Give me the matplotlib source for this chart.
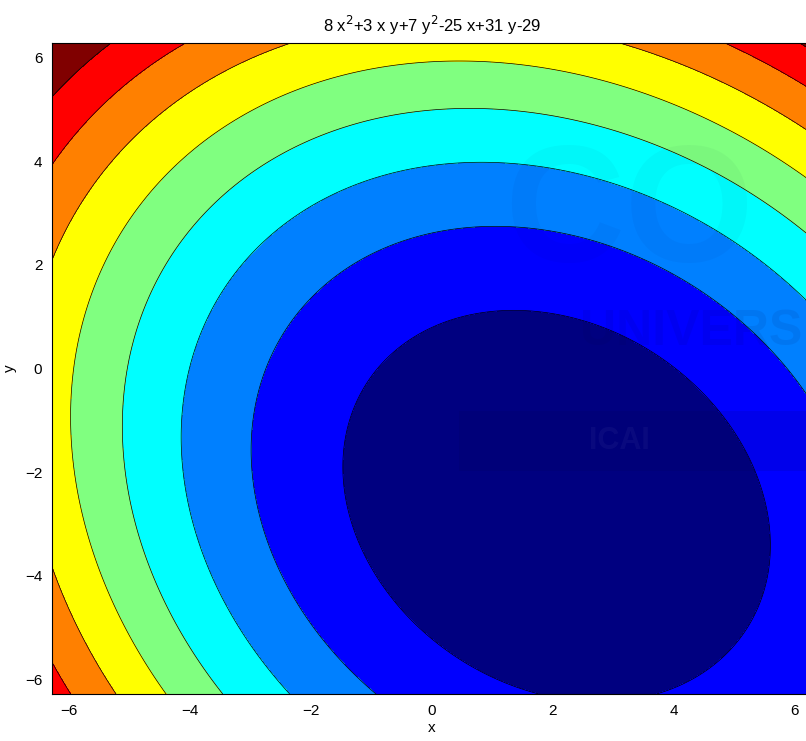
import numpy as np
import matplotlib
matplotlib.use("Agg")
import matplotlib.pyplot as plt
from matplotlib.patches import Rectangle

# f(x, y) = a x^2 + b x y + c y^2 + d x + e y + k
coef_a, coef_b, coef_c = 8, 3, 7
coef_d, coef_e, coef_k = -25, 31, -29
title = "8 x$^{2}$+3 x y+7 y$^{2}$-25 x+31 y-29"

# contour levels (MATLAB auto levels) and ticks
levels_inner = [0, 100, 200, 300, 400, 500, 600, 700]
xticks = [-6, -4, -2, 0, 2, 4, 6]
yticks = [-6, -4, -2, 0, 2, 4, 6]

# jet-like band colours, lowest to highest
band_colors = ["#000080", "#0000ff", "#0080ff", "#00ffff", "#80ff80",
               "#ffff00", "#ff8000", "#ff0000", "#800000"]

plt.rcParams['font.family'] = ['Liberation Sans', 'DejaVu Sans']

x = np.linspace(-2 * np.pi, 2 * np.pi, 400)
y = np.linspace(-2 * np.pi, 2 * np.pi, 400)
X, Y = np.meshgrid(x, y)
Z = (coef_a * X**2 + coef_b * X * Y + coef_c * Y**2
     + coef_d * X + coef_e * Y + coef_k)

levels = [Z.min() - 1] + levels_inner + [Z.max() + 1]

fig = plt.figure(figsize=(8.06, 7.41), dpi=100)
ax = fig.add_axes([52 / 806, 47 / 741, 760 / 806, 651 / 741])

ax.contourf(X, Y, Z, levels=levels, colors=band_colors)
ax.contour(X, Y, Z, levels=levels_inner, colors="k", linewidths=0.5)

# faint university watermark
ax.text(1.2, 2.9, "CO", fontsize=120, fontweight="bold", color="#000040",
        alpha=0.03, ha="left", va="center")
ax.text(2.45, 0.7, "UNIVERS", fontsize=36, fontweight="bold", color="#000040",
        alpha=0.07, ha="left", va="center")
ax.add_patch(Rectangle((0.45, -1.97), 6.0, 1.15, color="#000040", alpha=0.1,
                       linewidth=0))
ax.text(3.1, -1.4, "ICAI", fontsize=22, fontweight="bold", color="#4040a0",
        alpha=0.15, ha="center", va="center")

ax.set_xlim(-2 * np.pi, 2 * np.pi)
ax.set_ylim(-2 * np.pi, 2 * np.pi)
ax.set_xticks(xticks)
ax.set_yticks(yticks)
ax.tick_params(length=0, labelsize=11, pad=7)
ax.set_xlabel("x", fontsize=11, labelpad=2)
ax.set_ylabel("y", fontsize=11, labelpad=6)
ax.set_title(title, fontsize=12, pad=8)
for s in ax.spines.values():
    s.set_linewidth(0.8)

fig.savefig("out.png", dpi=100)
